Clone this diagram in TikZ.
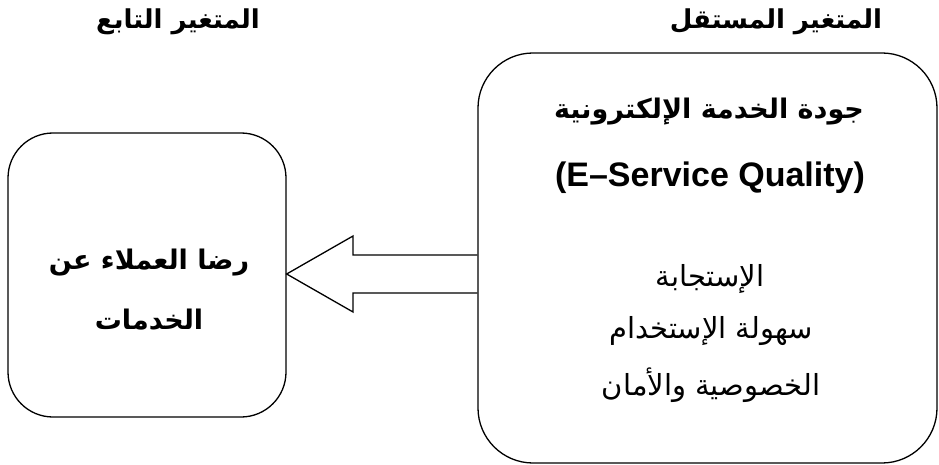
\documentclass[tikz,border=0pt]{standalone}
\usepackage{fontspec}
\setmainfont{Liberation Sans}
\newfontfamily\arabicfont[Script=Arabic]{DejaVu Sans}
\TeXXeTstate=1
\usetikzlibrary{calc}
\tikzset{box/.style={draw,line width=1.3pt,rounded corners=#1,inner sep=0pt},head/.style={font=\fontsize{26}{28}\selectfont\arabicfont\bfseries},bold/.style={font=\fontsize{27}{29}\selectfont\arabicfont\bfseries},plain/.style={font=\fontsize{29}{31}\selectfont\arabicfont},latin/.style={font=\fontsize{34}{36}\selectfont\bfseries}}

\begin{document}
\begin{tikzpicture}[x=1pt,y=-1pt]
\useasboundingbox (0,0) rectangle (939,465);
\node[box=45,minimum width=278pt,minimum height=284pt] (dep) at (147,275){};
\node[box=55,minimum width=459pt,minimum height=410pt] (indep) at (707.5,258){};
\node[head] (hdep) at (178,22){\beginR المتغير التابع\endR};
\node[head] (hindep) at (776,22){\beginR المتغير المستقل\endR};
\node[bold] (eq) at (709,112){\beginR جودة الخدمة الإلكترونية\endR};
\node[latin] (eqen) at (710,178){(E--Service Quality)};
\node[plain] (d1) at (710,279){\beginR الإستجابة\endR};
\node[plain] (d2) at (711,331){\beginR سهولة الإستخدام\endR};
\node[plain] (d3) at (711,385){\beginR الخصوصية والأمان\endR};
\node[bold] (sat1) at (149,263){\beginR رضا العملاء عن\endR};
\node[bold] (sat2) at (149,320){\beginR الخدمات\endR};
% block arrow
\draw[line width=1.3pt,line join=miter] (indep.west |- 0,255) -- (353,255) -- (353,236) -- (dep.east |- 0,274) -- (353,312) -- (353,293) -- (indep.west |- 0,293);
\end{tikzpicture}
\end{document}
